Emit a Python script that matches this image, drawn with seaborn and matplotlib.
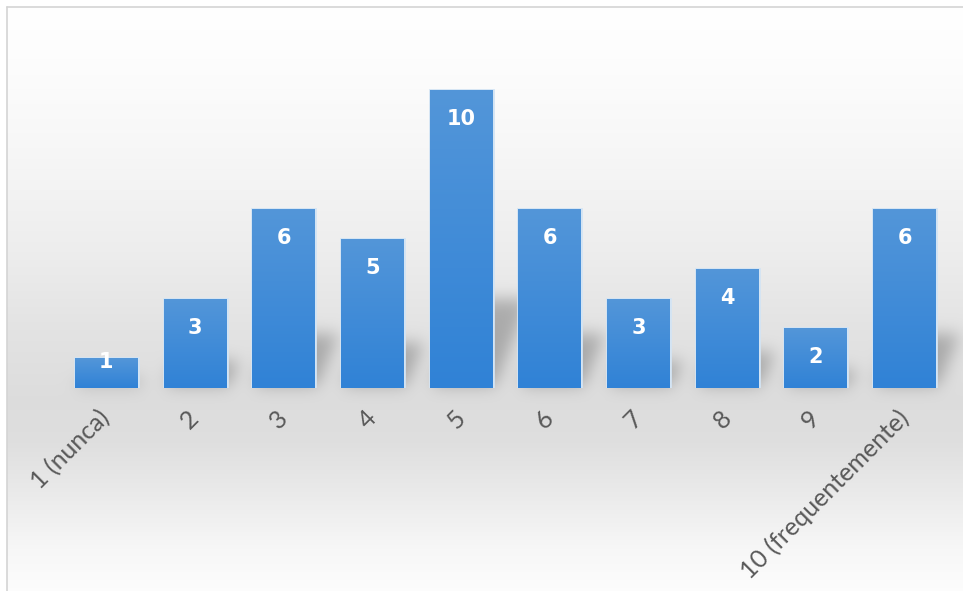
import numpy as np
import matplotlib
matplotlib.use("Agg")
import matplotlib.pyplot as plt
from matplotlib.path import Path
from matplotlib.colors import to_rgb
import pandas as pd
import seaborn as sns

# Survey answers: how often (1 = never ... 10 = frequently)
categories = ["1 (nunca)", "2", "3", "4", "5", "6", "7", "8", "9", "10 (frequentemente)"]
counts = [1, 3, 6, 5, 10, 6, 3, 4, 2, 6]

W, H, DPI = 963, 591, 100

sns.set_theme(style="white")
plt.rcParams["font.family"] = ["Lato", "DejaVu Sans"]

fig = plt.figure(figsize=(W / DPI, H / DPI), dpi=DPI)
fig.patch.set_facecolor("white")
bg_ax = fig.add_axes([0, 0, 1, 1], zorder=0)
bg_ax.set_axis_off()
ax = fig.add_axes([62 / W, 203 / H, 887 / W, 328 / H], zorder=1)
ax.patch.set_alpha(0)

df = pd.DataFrame({"categoria": categories, "respostas": counts})
sns.barplot(data=df, x="categoria", y="respostas", color="#3a87d6",
            saturation=1, width=0.71, ax=ax)

ax.set_xlim(-0.5, len(categories) - 0.5)
ax.set_ylim(0, 11)

# vertical gradient inside each bar, soft pale rim outside
top_c, bot_c = np.array(to_rgb("#5396d9")), np.array(to_rgb("#3082d6"))
t = np.linspace(0, 1, 128)[:, None, None]
grad = (top_c * (1 - t) + bot_c * t)
for p in ax.patches:
    p.set_edgecolor("#d3e4f4")
    p.set_linewidth(2.0)
    x0, w, h = p.get_x(), p.get_width(), p.get_height()
    im = ax.imshow(grad, extent=(x0, x0 + w, 0, h), aspect="auto",
                   origin="upper", zorder=p.get_zorder() + 0.1,
                   interpolation="bilinear")
    im.set_clip_path(p)
ax.set_xlim(-0.5, len(categories) - 0.5)
ax.set_ylim(0, 11)

# value labels just inside the bar tops (short bars keep them at the top edge)
px_per_unit = ax.transData.transform((0, 1))[1] - ax.transData.transform((0, 0))[1]
for p, v in zip(ax.patches, counts):
    bar_px = p.get_height() * px_per_unit
    off_px = 29 if bar_px >= 58 else 4
    ax.annotate(str(v), xy=(p.get_x() + p.get_width() / 2, p.get_height()),
                xytext=(0, -off_px * 72 / DPI), textcoords="offset points",
                ha="center", va="center", color="white", fontsize=15,
                fontweight="bold", family=["DejaVu Sans"], zorder=5)

ax.set_xticks(range(len(categories)))
ax.set_xticklabels(categories, rotation=45, ha="right", va="center",
                   rotation_mode="anchor", color="#595959", fontsize=18)
ax.tick_params(axis="x", length=0, pad=19)
ax.set_yticks([])
ax.set_xlabel("")
ax.set_ylabel("")
for s in ax.spines.values():
    s.set_visible(False)

# background: grey band behind the bar bases fading to white
rows = np.arange(H)
ys = [0, 60, 150, 250, 330, 400, 440, 500, 550, 591]
vs = [1.0, 0.992, 0.968, 0.93, 0.89, 0.865, 0.872, 0.925, 0.97, 0.99]
col = np.interp(rows, ys, vs)
bg = np.repeat(col[:, None], W, axis=1)

# soft cast shadows leaning to the right of each bar
mask = np.zeros((H, W))
yy, xx = np.mgrid[0:H, 0:W]
pts = np.c_[xx.ravel() + 0.5, yy.ravel() + 0.5]
for p in ax.patches:
    (px0, pyb), (px1, pyt) = ax.transData.transform(
        [(p.get_x(), 0), (p.get_x() + p.get_width(), p.get_height())])
    rb, rt = H - pyb, H - pyt
    hh = 0.3 * (rb - rt)
    d = 0.4 * hh
    poly = Path([(px0 + 2, rb - 2), (px1 + 2, rb - 2), (px1 + 2 + d, rb - hh),
                 (px0 + 2 + d, rb - hh), (px0 + 2, rb - 2)])
    inside = poly.contains_points(pts)
    mask = np.maximum(mask, inside.reshape(H, W).astype(float))

sig = 8.0
k = np.arange(-3 * int(sig), 3 * int(sig) + 1)
kern = np.exp(-k ** 2 / (2 * sig ** 2))
kern /= kern.sum()
mask = np.apply_along_axis(lambda r: np.convolve(r, kern, mode="same"), 1, mask)
mask = np.apply_along_axis(lambda c: np.convolve(c, kern, mode="same"), 0, mask)
bg = bg * (1 - 0.25 * mask)

# area outside the chart frame stays white
bg[:7, :] = 1.0
bg[:, :7] = 1.0
img = np.dstack([bg, bg, bg])
bg_ax.imshow(img, extent=(0, W, H, 0), aspect="auto", interpolation="bilinear")
bg_ax.plot([7, W], [7, 7], color="#d4d4d4", lw=1.2)
bg_ax.plot([7, 7], [7, H], color="#d4d4d4", lw=1.2)
bg_ax.set_xlim(0, W)
bg_ax.set_ylim(H, 0)

fig.savefig("out.png", dpi=DPI)
